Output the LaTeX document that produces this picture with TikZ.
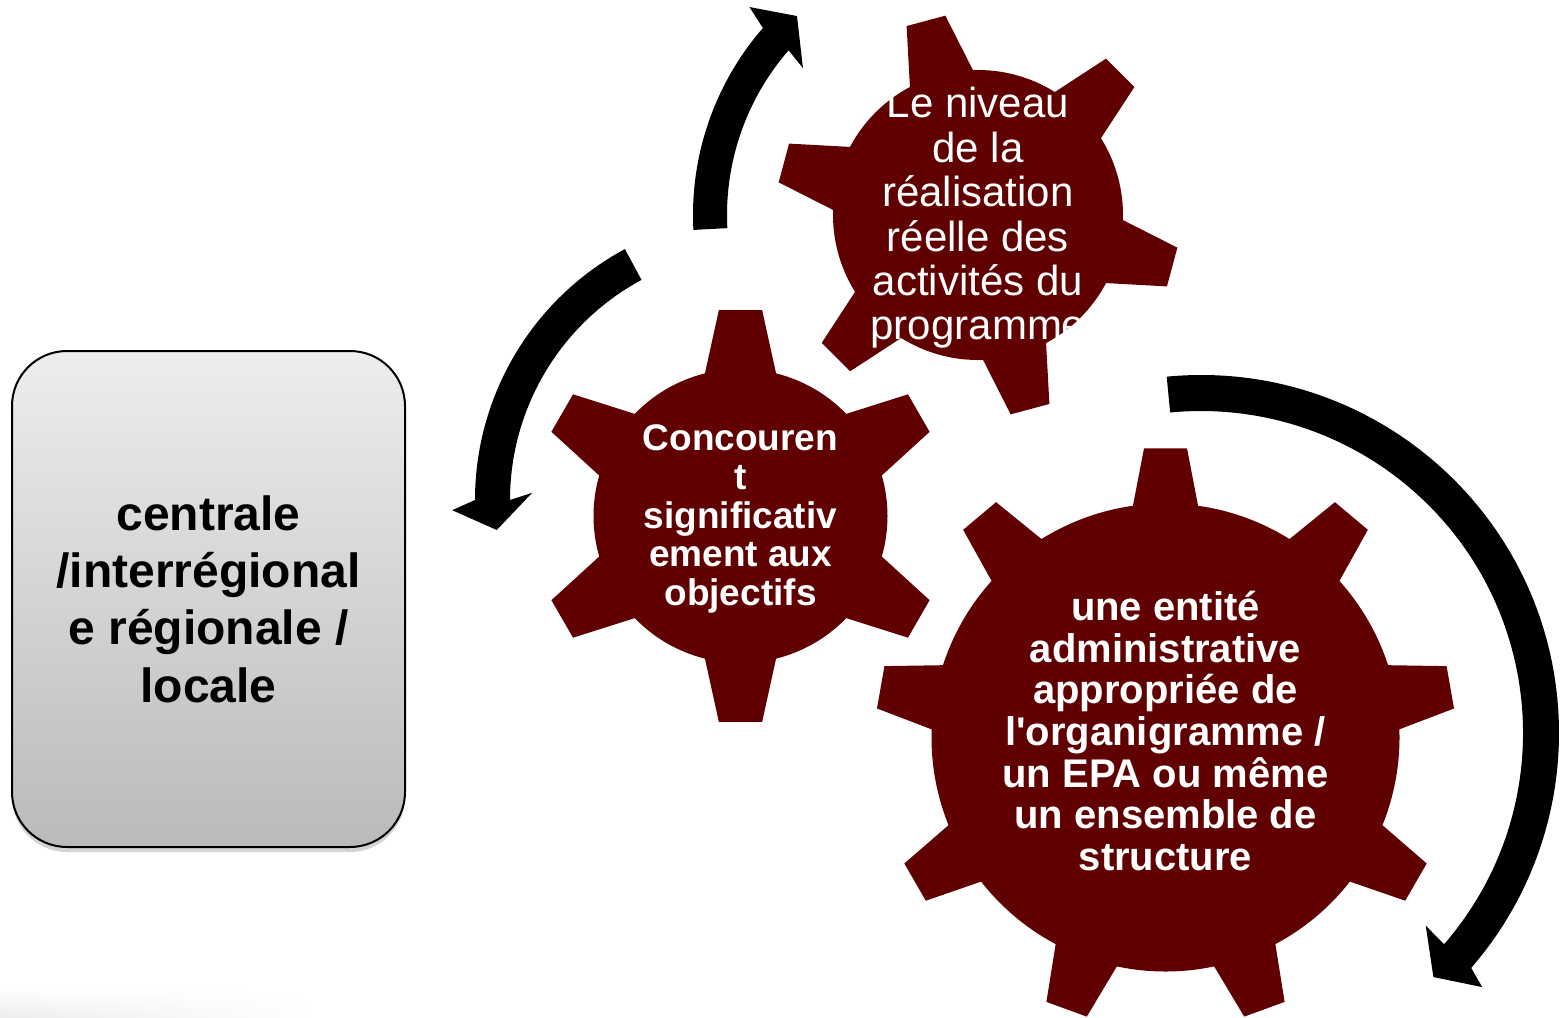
\documentclass[tikz,border=0pt]{standalone}
\usepackage{fontspec}
\setmainfont{Liberation Sans}
\usepackage{xcolor}
\usepackage{tikz}
\usetikzlibrary{calc,shadows,fadings}

\definecolor{gearred}{RGB}{96,0,0}

% gear: center, teeth, first tooth angle, body radius, tip radius, base half angle, tip half angle
\newcommand{\drawgear}[7]{%
	\begin{scope}[shift={#1}]
		\fill[gearfill] ({#3-#6}:#4)
		\foreach \k in {1,...,#2}{
			-- ({#3+(\k-1)*360/#2-#6}:#4) -- ({#3+(\k-1)*360/#2-#7}:#5)
			-- ({#3+(\k-1)*360/#2+#7}:#5) -- ({#3+(\k-1)*360/#2+#6}:#4)
			arc[start angle={#3+(\k-1)*360/#2+#6}, end angle={#3+\k*360/#2-#6}, radius=#4pt]
		} -- cycle;
	\end{scope}%
}

% circular arrow: center, inner r, outer r, tail angle, end angle, outer barb, tip, inner barb
\newcommand{\circarrow}[8]{%
	\begin{scope}[shift={#1}]
		\fill[arrowfill] (#4:#3) arc[start angle=#4, end angle=#5, radius=#3pt]
		-- #6 -- #7 -- #8 -- (#5:#2) arc[start angle=#5, end angle=#4, radius=#2pt] -- cycle;
	\end{scope}%
}

\tikzset{
	gearfill/.style={fill=gearred},
	arrowfill/.style={fill=black},
	geartext/.style={text=white, align=center, inner sep=0pt},
	levelbox/.style={draw=black, line width=2pt, rounded corners=55pt,
		minimum width=393pt, minimum height=496pt,
		top color=black!7, bottom color=black!27, align=center,
		drop shadow={shadow xshift=0pt, shadow yshift=-5pt, opacity=0.35}}
}

\begin{document}
\begin{tikzpicture}[x=1pt, y=1pt]
	\useasboundingbox (0,0) rectangle (1560,-1017);
	
	% faint reflection under the box
	\shade[top color=white, bottom color=black!7, path fading=east] (0,-988) rectangle (320,-1017);
	
	% Draw the box
	\node[levelbox, font={\fontsize{48}{57.3}\selectfont\bfseries}] (box) at (208.5,-599)
		{centrale\\/interrégional\\e régionale /\\locale};
	
	% Draw the gears
	\drawgear{(978,-215)}{6}{45}{145}{202}{13}{5.7}
	\drawgear{(740.5,-516)}{6}{90}{147}{207}{14}{6}
	\drawgear{(1165.5,-737.5)}{9}{90}{234}{290}{8}{4.25}
	
	% Label the gears
	\node[geartext, font={\fontsize{42}{44.4}\selectfont}] (niveau) at (978,-218)
		{Le niveau\\de la\\réalisation\\réelle des\\activités du\\programme};
	\node[geartext, font={\fontsize{37}{38.8}\selectfont\bfseries}] (concourent) at (740.5,-519)
		{Concouren\\t\\significativ\\ement aux\\objectifs};
	\node[geartext, font={\fontsize{40}{41.6}\selectfont\bfseries}] (entite) at (1165.5,-731)
		{une entité\\administrative\\appropriée de\\l\textquotesingle organigramme /\\un EPA ou même\\un ensemble de\\structure};
	
	% Draw the circular arrows
	\circarrow{(978,-215)}{251}{285}{183}{139}{(137.7:309)}{(132.3:269)}{(140:228.5)}
	\circarrow{(760,-500)}{250}{285}{118.3}{180}{(181.9:308)}{(186.5:265)}{(178.2:228)}
	\circarrow{(1201,-733)}{322}{358}{95.5}{-41}{(-42.1:379)}{(-46.4:337)}{(-40.6:296)}
	
\end{tikzpicture}
\end{document}
